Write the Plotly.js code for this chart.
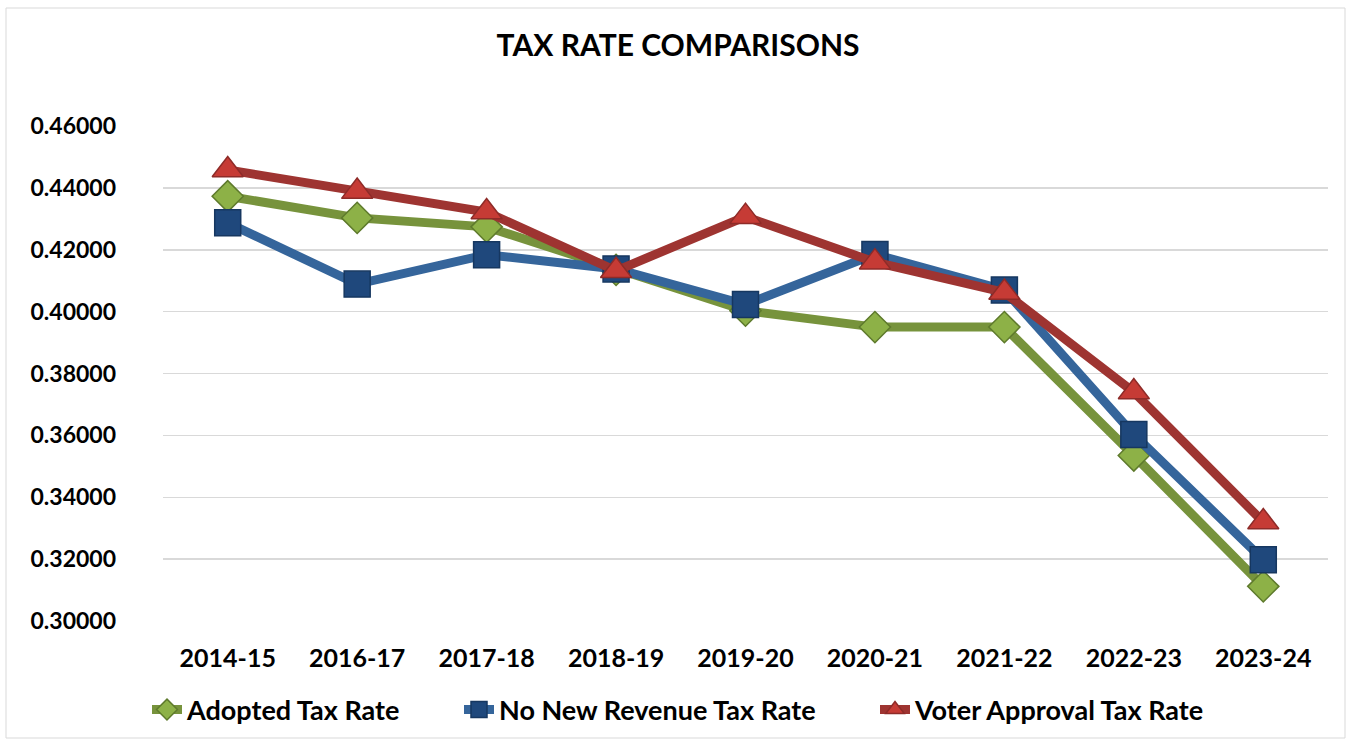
<!DOCTYPE html>
<html>
<head>
<meta charset="utf-8">
<script src="https://cdn.plot.ly/plotly-3.0.1.min.js"></script>
<style>html,body{margin:0;padding:0;background:#fff;}#chart{width:1351px;height:741px;}</style>
</head>
<body>
<div id="chart"></div>
<script>
const years = ["2014-15","2016-17","2017-18","2018-19","2019-20","2020-21","2021-22","2022-23","2023-24"];
const adopted = [0.4373,0.4303,0.4274,0.4135,0.4003,0.3950,0.3950,0.3535,0.3112];
const noNewRevenue = [0.4287,0.4089,0.4184,0.4138,0.4023,0.4185,0.4070,0.3603,0.3198];
const voterApproval = [0.4458,0.4388,0.4322,0.4132,0.4307,0.4160,0.4062,0.3740,0.3320];
const seriesNames = ["Adopted Tax Rate","No New Revenue Tax Rate","Voter Approval Tax Rate"];

const FONT = "Lato, 'Open Sans', sans-serif";
const W = 1351, H = 741;
const PL = 163, PR = 1328, PT = 126, PB = 621;
const px = v => (v - PL) / (PR - PL);

function trace(name, y, lineColor, sym, mColor, mLine, size, leg) {
  return {
    type: "scatter", mode: "lines+markers", name: name, x: years, y: y, legend: leg,
    line: {color: lineColor, width: 9},
    marker: {symbol: sym, size: size, color: mColor, line: {color: mLine, width: 1.5}}
  };
}

const data = [
  trace(seriesNames[0], adopted, "#77933C", "diamond", "#8DB147", "#5E7A2C", 24, "legend"),
  trace(seriesNames[1], noNewRevenue, "#35659B", "square", "#1F487C", "#163760", 26, "legend2"),
  trace(seriesNames[2], voterApproval, "#9E3431", "triangle-up", "#C63B35", "#8E2B28", 27, "legend3")
];

function leg(xpix) {
  return {orientation: "h", xref: "container", x: xpix / W, xanchor: "left",
          yref: "container", y: 1 - 710 / H, yanchor: "middle",
          font: {family: FONT, size: 27, color: "#000", weight: "bold"}, bgcolor: "rgba(0,0,0,0)",
          borderwidth: 0};
}

const layout = {
  width: W, height: H,
  margin: {l: PL, r: W - PR, t: PT, b: H - PB},
  paper_bgcolor: "#ffffff", plot_bgcolor: "#ffffff",
  title: {text: "<b>TAX RATE COMPARISONS</b>", x: px(678), xref: "paper", xanchor: "center",
          y: 1 - 45/H, yanchor: "middle", font: {family: FONT, size: 30, color: "#000"}},
  xaxis: {type: "category", range: [-0.5, 8.5], showgrid: false, zeroline: false, showline: false, ticks: "",
          automargin: false,
          tickfont: {family: FONT, size: 25, color: "#000", weight: "bold"}, ticklabelstandoff: 20},
  yaxis: {range: [0.30, 0.46], dtick: 0.02, tick0: 0.30, tickformat: ".5f", automargin: false,
          showgrid: true, gridcolor: "#d9d9d9", gridwidth: 1.5, zeroline: false, showline: false,
          ticks: "", tickfont: {family: FONT, size: 23, color: "#000", weight: "bold"}, ticklabelstandoff: 46},
  showlegend: true,
  legend: leg(147),
  legend2: leg(459),
  legend3: leg(875),
  shapes: [{type: "rect", xref: "paper", yref: "paper",
            x0: px(6), x1: px(1345), y0: (PB - 738) / (PB - PT), y1: (PB - 8) / (PB - PT),
            line: {color: "#d9d9d9", width: 1}, fillcolor: "rgba(0,0,0,0)", layer: "below"}]
};

Plotly.newPlot("chart", data, layout, {displayModeBar: false, staticPlot: true});
</script>
</body>
</html>
